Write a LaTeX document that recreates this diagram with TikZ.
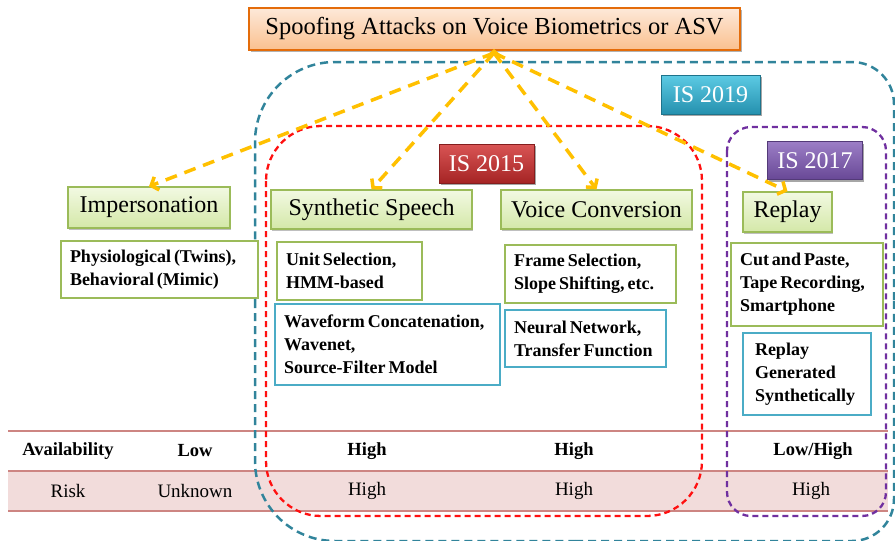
\documentclass[tikz,border=0pt]{standalone}
\usepackage{fontspec}
\setmainfont{Liberation Serif}
\usetikzlibrary{arrows.meta,shadows}
\definecolor{orB}{HTML}{E46C0A}
\definecolor{orT}{HTML}{FDE9D9}
\definecolor{orBot}{HTML}{FAC08F}
\definecolor{grB}{HTML}{9BBB59}
\definecolor{grT}{HTML}{F2F9E2}
\definecolor{grBot}{HTML}{D4E8A8}
\definecolor{blB}{HTML}{4BACC6}
\definecolor{tealD}{HTML}{31849B}
\definecolor{redD}{HTML}{FF1010}
\definecolor{purD}{HTML}{7030A0}
\definecolor{arrC}{HTML}{FFC000}
\definecolor{tabL}{HTML}{CD8582}
\definecolor{tabF}{HTML}{F2DCDB}
\definecolor{cyT}{HTML}{5CCBE4}
\definecolor{cyB}{HTML}{2590AE}
\definecolor{rdT}{HTML}{D95555}
\definecolor{rdB}{HTML}{A52424}
\definecolor{puT}{HTML}{9C7EC6}
\definecolor{puB}{HTML}{684896}
\newcommand\mytightsp{\spaceskip=3pt plus 1pt minus 1pt\relax}
\tikzset{
  titlebox/.style={draw=orB, line width=2.5pt, top color=orT, bottom color=orBot,
    font=\fontsize{24.5}{28}\selectfont, inner sep=0pt,
    drop shadow={shadow xshift=1.5pt, shadow yshift=-2pt, opacity=.3, fill=black}},
  header/.style={draw=grB, line width=1.2pt, top color=grT, bottom color=grBot,
    font=\fontsize{24}{28}\selectfont, inner sep=0pt,
    drop shadow={shadow xshift=1.2pt, shadow yshift=-1.8pt, opacity=.25, fill=black}},
  islabel/.style={draw=#1!80!black, line width=0.8pt, text=white, inner sep=0pt,
    font=\fontsize{24}{28}\selectfont,
    drop shadow={shadow xshift=1.5pt, shadow yshift=-2pt, opacity=.35, fill=black}},
  detail/.style={draw=#1, line width=2.5pt, fill=white, inner xsep=9pt, inner ysep=0pt,
    align=left, font=\fontsize{18}{23}\selectfont\bfseries,
    execute at begin node=\mytightsp},
  arr/.style={draw=arrC, line width=3.5pt, dash pattern=on 12pt off 8pt,
    -{Straight Barb[length=6pt,width=14pt]}},
  tabbold/.style={font=\fontsize{18.5}{22}\selectfont\bfseries, inner sep=0pt},
  tabreg/.style={font=\fontsize{19}{22}\selectfont, inner sep=0pt},
}
\begin{document}
\begin{tikzpicture}[x=1pt,y=-1pt]
\useasboundingbox (0,0) rectangle (895,541);
% table band
\fill[tabF] (8,471) rectangle (888,511);
\draw[tabL, line width=1.5pt] (8,431) -- (888,431);
\draw[tabL, line width=2.5pt] (8,471) -- (888,471);
\draw[tabL, line width=1.5pt] (8,511) -- (888,511);
% table texts
\node[tabbold] (av) at (68,451) {Availability};
\node[tabbold] (av1) at (195,451) {Low};
\node[tabbold] (av2) at (367,451) {High};
\node[tabbold] (av3) at (574,451) {High};
\node[tabbold] (av4) at (813,451) {Low/High};
\node[tabreg] (rk) at (68,491) {Risk};
\node[tabreg] (rk1) at (195,491) {Unknown};
\node[tabreg] (rk2) at (367,491) {High};
\node[tabreg] (rk3) at (574,491) {High};
\node[tabreg] (rk4) at (811,491) {High};
% dashed regions
\begin{scope}[draw=tealD, line width=2.5pt, dash pattern=on 8pt off 5pt]
\draw[rounded corners=80pt] (575,62) -- (255,62) -- (255,300);
\draw[rounded corners=80pt] (255,300) -- (255,541) -- (575,541);
\draw[rounded corners=42pt] (575,541) -- (894,541) -- (894,300);
\draw[rounded corners=42pt] (894,300) -- (894,62) -- (575,62);
\end{scope}
\draw[redD, line width=2.3pt, dash pattern=on 6pt off 4pt, rounded corners=55pt]
  (266,126) rectangle (702,516);
\draw[purD, line width=2.3pt, dash pattern=on 6pt off 4pt, rounded corners=24pt]
  (727,127) rectangle (886,516);
% IS labels
\node[islabel=cyB, top color=cyT, bottom color=cyB, minimum width=99pt, minimum height=39pt] (is19) at (710.5,94.5) {IS 2019};
\node[islabel=rdB, top color=rdT, bottom color=rdB, minimum width=95pt, minimum height=39pt] (is15) at (486.5,163.5) {IS 2015};
\node[islabel=puB, top color=puT, bottom color=puB, minimum width=95pt, minimum height=38pt] (is17) at (815,160.5) {IS 2017};
% headers
\node[header, minimum width=162pt, minimum height=41pt] (imp) at (149,207.5) {Impersonation};
\node[header, minimum width=201pt, minimum height=39pt] (syn) at (371.5,209.5) {Synthetic Speech};
\node[header, minimum width=191pt, minimum height=39pt] (vc) at (596.5,209.5) {Voice Conversion};
\node[header, minimum width=89pt, minimum height=40pt] (rep) at (787.5,212) {Replay};
% detail boxes
\node[detail=grB, text width=179pt, minimum height=57pt] (phys) at (159.5,269.5) {Physiological (Twins),\\Behavioral (Mimic)};
\node[detail=grB, text width=127pt, minimum height=58pt] (unit) at (349.5,271) {Unit Selection,\\HMM-based};
\node[detail=blB, text width=207pt, minimum height=81pt] (wave) at (387.5,344.5) {Waveform Concatenation,\\Wavenet,\\Source-Filter Model};
\node[detail=grB, text width=153pt, minimum height=58pt] (frame) at (590.5,274) {Frame Selection,\\Slope Shifting, etc.};
\node[detail=blB, text width=143pt, minimum height=57pt] (neur) at (585.5,338.5) {Neural Network,\\Transfer Function};
\node[detail=grB, text width=134pt, minimum height=83pt] (cut) at (807,284.5) {Cut and Paste,\\Tape Recording,\\Smartphone};
\node[detail=blB, text width=110pt, minimum height=82pt, inner xsep=9pt] (rgen) at (807,374) {\hspace*{3pt}Replay\\\hspace*{3pt}Generated\\\hspace*{3pt}Synthetically};
% title
\node[titlebox, minimum width=491pt, minimum height=42pt] (title) at (494.5,29) {Spoofing Attacks on Voice Biometrics or ASV};
% arrows
\coordinate (apex) at (494,53);
\coordinate (apexup) at (494,49);
\draw[arr] (apex) -- (imp.north);
\draw[arr] (apex) -- (syn.north);
\draw[arr] (apex) -- (vc.north);
\draw[arr] (apex) -- (rep.north);
\draw[arr, solid] (apex) -- (apexup);
\end{tikzpicture}
\end{document}
